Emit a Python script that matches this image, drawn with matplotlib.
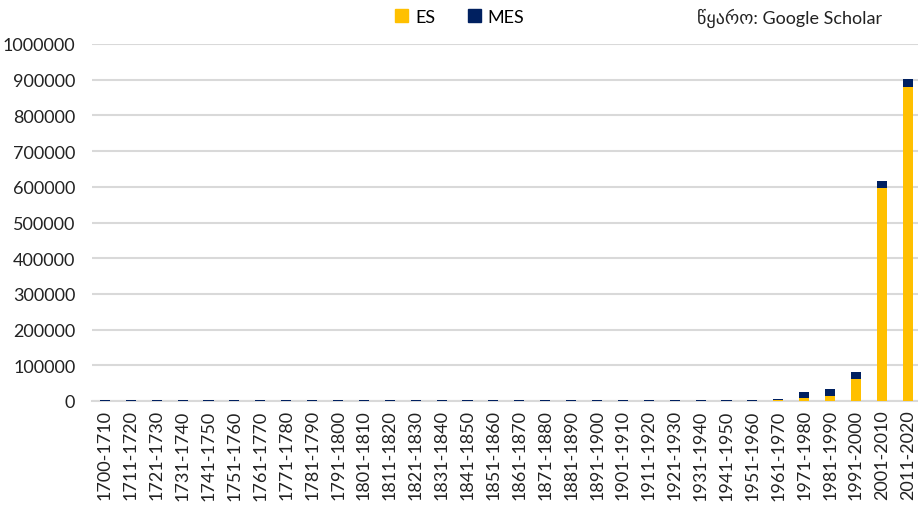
import matplotlib
matplotlib.use("Agg")
import matplotlib.pyplot as plt
import numpy as np
from matplotlib.patches import Patch

plt.rcParams['font.family'] = ['Lato', 'DejaVu Sans']

categories = ["1700-1710"] + [f"{1701 + 10*i}-{1710 + 10*i}" for i in range(1, 32)]

es = [200, 200, 200, 200, 200, 200, 200, 200, 200, 200,
      200, 200, 200, 200, 200, 200, 200, 200, 200, 200,
      200, 200, 200, 200, 200, 300, 3500, 7500, 15000, 61000,
      597000, 880000]
mes = [1500, 1500, 1500, 1500, 1500, 1500, 1500, 1500, 1500, 1500,
       1500, 1500, 1500, 1500, 1500, 1500, 1500, 1500, 1500, 1500,
       1500, 1500, 1500, 1500, 1500, 1700, 3000, 16500, 17500, 21000,
       20000, 21000]

es_color = "#FFC000"
mes_color = "#002060"

fig = plt.figure(figsize=(9.18, 5.06), dpi=100)
ax = fig.add_axes([92/918, 1 - 402/506, 1 - 92/918 + 0.003, 357/506])

x = np.arange(len(categories))
w = 0.39
ax.bar(x, es, width=w, color=es_color, zorder=3)
ax.bar(x, mes, width=w, bottom=es, color=mes_color, zorder=3)

ax.set_xlim(-0.5, len(categories) - 0.5)
ax.set_ylim(0, 1000000)
ax.set_yticks(np.arange(0, 1000001, 100000))
ax.set_yticklabels([str(v) for v in range(0, 1000001, 100000)])
ax.yaxis.grid(True, color="#d9d9d9", linewidth=1.5, zorder=0)
ax.set_axisbelow(True)
ax.set_xticks(x)
ax.set_xticklabels(categories, rotation=90)
for s in ["top", "right", "left"]:
    ax.spines[s].set_visible(False)
ax.spines["bottom"].set_color("#d9d9d9")
ax.spines["bottom"].set_linewidth(1.5)
ax.spines["bottom"].set_zorder(1)
ax.tick_params(axis="both", length=0, labelsize=13, colors="#222222")
ax.tick_params(axis="y", pad=12)
ax.tick_params(axis="x", pad=6)

handles = [Patch(color=es_color, label="ES"), Patch(color=mes_color, label="MES")]
fig.legend(handles=handles, loc="center", bbox_to_anchor=(460/918, 1 - 18/506), ncol=2,
           frameon=False, fontsize=13, handlelength=0.7, handleheight=0.7,
           handletextpad=0.4, columnspacing=1.8)
fig.text(882/918, 1 - 18/506, "წყარო: Google Scholar", ha="right", va="center",
         fontsize=13, color="#222222")

fig.savefig("out.png", dpi=100)
